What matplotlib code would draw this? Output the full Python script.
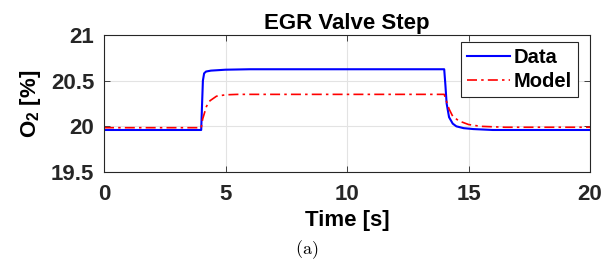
import matplotlib
matplotlib.use("Agg")
import matplotlib.pyplot as plt

# O2 step response
t_data = [0, 4.0, 4.03, 4.07, 4.12, 4.2, 4.4, 5.0, 6.0, 14.0, 14.05, 14.1, 14.2,
          14.35, 14.5, 14.8, 15.2, 16.0, 20.0]
o2_data = [19.96, 19.96, 20.2, 20.5, 20.58, 20.6, 20.61, 20.62, 20.625, 20.625, 20.45,
           20.25, 20.1, 20.03, 20.0, 19.98, 19.97, 19.96, 19.96]

t_model = [0, 4.0, 4.06, 4.15, 4.22, 4.36, 4.63, 5.0, 5.5, 14.0, 14.1, 14.2,
           14.35, 14.6, 15.0, 15.5, 16.5, 20.0]
o2_model = [19.985, 19.985, 20.08, 20.16, 20.22, 20.28, 20.33, 20.345, 20.35, 20.35,
            20.27, 20.19, 20.11, 20.06, 20.02, 20.0, 19.99, 19.99]

plt.rcParams['font.family'] = ['Liberation Sans', 'DejaVu Sans']
plt.rcParams['font.weight'] = 'bold'
plt.rcParams['mathtext.fontset'] = 'custom'
plt.rcParams['mathtext.bf'] = 'Liberation Sans:bold'

fig = plt.figure(figsize=(6.15, 2.68), dpi=100)
ax = fig.add_axes([104 / 615, 1 - 172 / 268, 486 / 615, 137 / 268])

ax.plot(t_data, o2_data, color='#0000ff', lw=1.5, label='Data')
ax.plot(t_model, o2_model, color='#ff0000', lw=1.2, ls=(0, (6, 2.5, 1.5, 2.5)), label='Model')

ax.set_xlim(0, 20)
ax.set_ylim(19.5, 21)
ax.set_xticks([0, 5, 10, 15, 20])
ax.set_yticks([19.5, 20, 20.5, 21])
ax.set_yticklabels(['19.5', '20', '20.5', '21'])
ax.grid(True, color='#e3e3e3', lw=0.8)
ax.tick_params(direction='in', length=4, labelsize=16, colors='#262626', width=0.6,
               top=True, right=True, pad=7)
ax.tick_params(axis='x', pad=9)
for s in ax.spines.values():
    s.set_color('#262626')
    s.set_linewidth(0.8)

ax.set_xlabel('Time [s]', fontsize=16, fontweight='bold', labelpad=3)
ax.set_ylabel('O$_\\mathbf{2}$ [%]', fontsize=16, fontweight='bold', labelpad=6)
ax.set_title('EGR Valve Step', fontsize=16, fontweight='bold', pad=4)

leg = ax.legend(loc='upper right', bbox_to_anchor=(0.975, 0.946), fontsize=14.5,
                frameon=True, fancybox=False, borderaxespad=0, handlelength=2.1,
                borderpad=0.3, labelspacing=0.22, handletextpad=0.2, framealpha=1)
leg.get_frame().set_edgecolor('#262626')
leg.get_frame().set_linewidth(0.8)

fig.text(307 / 615, 1 - 250 / 268, '$\\mathrm{(a)}$', ha='center', va='center',
         fontsize=13, math_fontfamily='cm')

fig.savefig('out.png', dpi=100)
